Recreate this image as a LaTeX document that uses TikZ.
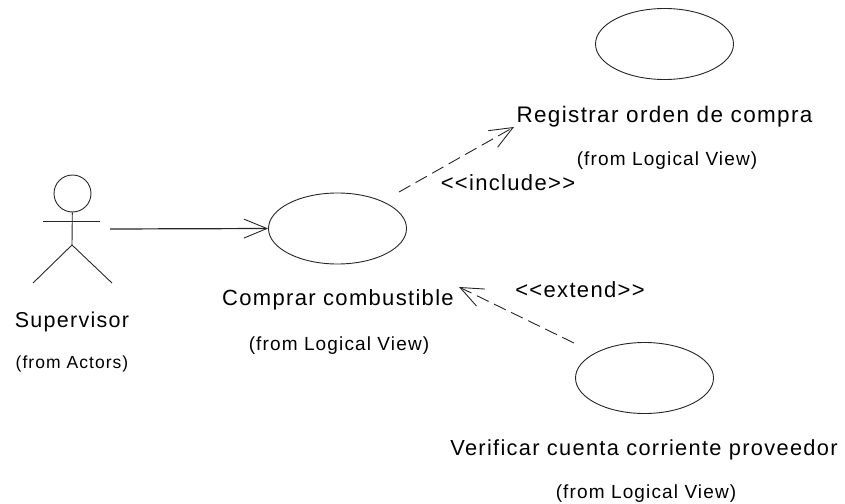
\documentclass[tikz,border=0pt]{standalone}
\usepackage{fontspec}
\setmainfont{Liberation Sans}[LetterSpace=6]
\usetikzlibrary{arrows.meta,shapes.geometric}
\begin{document}
\begin{tikzpicture}[
    x=1pt, y=-1pt, line width=0.9pt, color=black!85, text=black,
    usecase/.style = {draw,ellipse,inner sep=0pt,minimum width=138pt,minimum height=71pt},
    big/.style = {font=\fontsize{22}{26}\selectfont,inner sep=0pt},
    small/.style = {font=\fontsize{19}{22}\selectfont,inner sep=0pt},
    stereo/.style = {font=\fontsize{22}{26}\selectfont,inner sep=0pt},
    barb/.style = {-{Straight Barb[length=23pt,width=19pt,line width=0.9pt]}},
    dashline/.style = {dash pattern=on 13pt off 6pt}
  ]
    \useasboundingbox (0,0) rectangle (845,503);
    % actor
    \node[draw,circle,minimum size=37pt,inner sep=0pt] (head) at (72.5,193.5) {};
    \coordinate (hip) at (72,245);
    \coordinate (armL) at (43,221);
    \coordinate (armR) at (100,221);
    \coordinate (legL) at (33,283);
    \coordinate (legR) at (112,283);
    \draw (head) -- (hip);
    \draw (armL) -- (armR);
    \draw (hip) -- (legL);
    \draw (hip) -- (legR);
    \node[big,font=\fontsize{21.5}{26}\selectfont] (supervisor) at (72,322) {Supervisor};
    \node[small,font=\fontsize{17.5}{22}\selectfont] (fromactors) at (72,364) {(from Actors)};
    % use cases
    \node[usecase] (comprar) at (337.5,228.5) {};
    \node[big] (comprarlbl) at (338,300) {Comprar combustible};
    \node[small] (comprarfrom) at (339,346) {(from Logical View)};
    \node[usecase] (registrar) at (664.5,44) {};
    \node[big,font=\fontsize{22.5}{26}\selectfont] (registrarlbl) at (664.5,117) {Registrar orden de compra};
    \node[small] (registrarfrom) at (667,161) {(from Logical View)};
    \node[usecase] (verificar) at (644.5,378) {};
    \node[big,font=\fontsize{21.8}{26}\selectfont] (verificarlbl) at (644,450) {Verificar cuenta corriente proveedor};
    \node[small] (verificarfrom) at (646,494) {(from Logical View)};
    % connectors
    \coordinate (actorout) at (110,229);
    \coordinate (incstart) at (399,192);
    \coordinate (incend) at (514,127);
    \coordinate (extstart) at (574,343);
    \coordinate (extend) at (459,287);
    \draw[barb,line width=1.2pt] (actorout) -- (comprar.west);
    \draw[barb,dashline] (incstart) -- (incend);
    \draw[barb,dashline] (extstart) -- (extend);
    \node[stereo] (include) at (508,183) {<{}<include>{}>};
    \node[stereo] (extendlbl) at (580,290) {<{}<extend>{}>};
\end{tikzpicture}
\end{document}
